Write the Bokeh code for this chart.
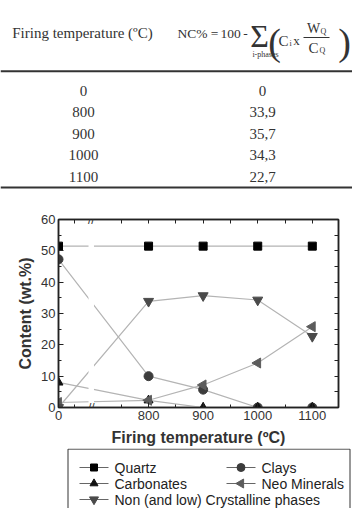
import numpy as np
from bokeh.plotting import figure
from bokeh.models import Range1d, LinearAxis, FixedTicker, SingleIntervalTicker, Label
from bokeh.core.properties import value
from bokeh.embed import file_html
from bokeh.resources import INLINE

# ---------------- data ----------------
temperatures = [0, 800, 900, 1000, 1100]
quartz = [51.5, 51.5, 51.5, 51.5, 51.5]
clays = [47.3, 10.0, 5.7, 0.0, 0.0]
carbonates = [8.0, 2.3, 0.0, 0.0, 0.0]
neo_minerals = [1.6, 2.3, 7.2, 14.2, 25.8]
non_crystalline = [0.0, 33.9, 35.7, 34.3, 22.7]

series_names = ["Quartz", "Clays", "Carbonates", "Neo Minerals",
                "Non (and low) Crystalline phases"]
series_values = [quartz, clays, carbonates, neo_minerals, non_crystalline]
series_markers = ["square", "circle", "triangle", "triangle", "inverted_triangle"]
series_angles = [0, 0, 0, np.pi / 2, 0]
series_colors = ["#000000", "#3c3c3c", "#111111", "#5c5c5c", "#4a4a4a"]
series_sizes = [8, 9, 9, 10, 10]

y_label = "Content (wt.%)"
x_label = "Firing temperature (ºC)"
table_head_left = "Firing temperature (ºC)"

# broken x axis: 0 °C is drawn at ZERO_POS, break mark at BREAK_POS
ZERO_POS = 635
BREAK_POS = 695
X_END = 1148
x_pos = [ZERO_POS if t == 0 else t for t in temperatures]

W = 352
SERIF = "Liberation Serif"
SANS = "Liberation Sans"
TXT = "#333333"

# ---------------- table ----------------
TH = 195
tab = figure(width=W, height=TH, x_range=Range1d(0, W), y_range=Range1d(TH, 0),
             x_axis_type=None, y_axis_type=None, toolbar_location=None,
             output_backend="svg", min_border=0, outline_line_color=None)

def ttext(fig, x, y, s, size="14px", align="center", font=SERIF, style="normal"):
    fig.text(x=[x], y=[y], text=[s], text_font=value(font), text_font_size=size,
             text_align=align, text_baseline="middle", text_color=TXT,
             text_font_style=style)

ttext(tab, 82, 32, table_head_left, size="15px")
ttext(tab, 177, 33, "NC%", size="13.5px", align="left")
ttext(tab, 214, 33, "=", size="13.5px")
ttext(tab, 230, 33, "100", size="13.5px")
ttext(tab, 245, 33, "-", size="13.5px")
ttext(tab, 259, 35, "\u03a3", size="32px")
ttext(tab, 265, 54, "i-phases", size="8px")
ttext(tab, 274, 41, "(", size="38px")
ttext(tab, 283, 40, "C", size="15px")
ttext(tab, 290, 43, "i", size="8px")
ttext(tab, 296, 40, "x", size="13px")
ttext(tab, 313, 28, "W", size="14px")
ttext(tab, 323, 31, "Q", size="8px")
tab.segment(x0=[303], y0=[37], x1=[329], y1=[37], line_color=TXT, line_width=1)
ttext(tab, 313, 47, "C", size="15px")
ttext(tab, 322, 50, "Q", size="8px")
ttext(tab, 344, 41, ")", size="38px")
tab.segment(x0=[0, 0], y0=[70.7, 187], x1=[W, W], y1=[70.7, 187],
            line_color=TXT, line_width=2)

nc_labels = ["0" if v == 0 else f"{v:.1f}".replace(".", ",") for v in non_crystalline]
row_y = [90 + i * 21.5 for i in range(len(temperatures))]
tab.text(x=[83] * len(temperatures), y=row_y, text=[str(t) for t in temperatures],
         text_font=value(SERIF), text_font_size="15px", text_align="center",
         text_baseline="middle", text_color=TXT)
tab.text(x=[262] * len(temperatures), y=row_y, text=nc_labels,
         text_font=value(SERIF), text_font_size="15px", text_align="center",
         text_baseline="middle", text_color=TXT)

# ---------------- chart ----------------
p = figure(width=W, height=253, x_range=Range1d(ZERO_POS, X_END), y_range=Range1d(0, 60),
           toolbar_location=None, output_backend="svg",
           min_border_left=58, min_border_right=14, min_border_top=24, min_border_bottom=0,
           outline_line_color="#222222", outline_line_width=1.5)
p.grid.visible = False

for vals in series_values:
    p.line(x_pos, vals, line_color="#b4b4b4", line_width=1.2)

# gap in the lines at the axis break
p.quad(left=[BREAK_POS - 5], right=[BREAK_POS + 5], bottom=[0.7], top=[59.3],
       fill_color="white", line_color=None)

for vals, mk, ang, col, sz in zip(series_values, series_markers, series_angles,
                                  series_colors, series_sizes):
    p.scatter(x_pos, vals, marker=mk, angle=ang, size=sz, fill_color=col, line_color=col)

x_minor = [664, 750, 850, 950, 1050]
x_ticker = FixedTicker(ticks=x_pos, minor_ticks=x_minor)
y_ticker = SingleIntervalTicker(interval=10, num_minor_ticks=2)
p.xaxis.ticker = x_ticker
p.xaxis.major_label_overrides = {pos: str(t) for pos, t in zip(x_pos, temperatures)}
p.yaxis.ticker = y_ticker

def style_axis(ax):
    ax.axis_line_color = "#222222"
    ax.axis_line_width = 1.5
    ax.major_tick_in = 5
    ax.major_tick_out = 0
    ax.minor_tick_in = 3
    ax.minor_tick_out = 0
    ax.major_tick_line_color = "#222222"
    ax.minor_tick_line_color = "#222222"
    ax.major_label_text_font = SANS
    ax.major_label_text_color = TXT
    ax.major_label_text_font_size = "13px"
    ax.major_label_standoff = 3
    ax.axis_label_text_font = SANS
    ax.axis_label_text_font_size = "16px"
    ax.axis_label_text_font_style = "bold"
    ax.axis_label_text_color = TXT
    ax.axis_label_standoff = 4

style_axis(p.xaxis[0])
style_axis(p.yaxis[0])
p.xaxis.axis_label_standoff = 6
p.xaxis.axis_label = x_label
p.yaxis.axis_label = y_label

# mirrored tick marks (no labels) on top and right
y_minor_all = list(range(5, 60, 5))
top_ax = LinearAxis(ticker=FixedTicker(ticks=[], minor_ticks=x_pos + x_minor))
right_ax = LinearAxis(ticker=FixedTicker(ticks=[], minor_ticks=y_minor_all))
for ax in (top_ax, right_ax):
    ax.axis_line_color = "#222222"
    ax.axis_line_width = 1.5
    ax.minor_tick_in = 4
    ax.minor_tick_out = 0
    ax.major_tick_in = 0
    ax.major_tick_out = 0
    ax.minor_tick_line_color = "#222222"
    ax.major_label_standoff = 0
p.add_layout(top_ax, "above")
p.add_layout(right_ax, "right")

for yy in (60, 0):
    p.add_layout(Label(x=BREAK_POS, y=yy, text="//", text_align="center",
                       text_baseline="middle", text_font_size="12px",
                       text_color=TXT, text_font=SANS))

# ---------------- legend ----------------
LH = 60
leg = figure(width=W, height=LH, x_range=Range1d(0, W), y_range=Range1d(LH, 0),
             x_axis_type=None, y_axis_type=None, toolbar_location=None,
             output_backend="svg", min_border=0, outline_line_color=None)
leg.quad(left=[67.5], right=[349.5], top=[0.6], bottom=[90], fill_color=None,
         line_color="#333333", line_width=1)
col_x0 = [79, 226]
for i, (name, mk, ang, col, sz) in enumerate(zip(series_names, series_markers, series_angles,
                                                  series_colors, series_sizes)):
    x0 = col_x0[i % 2]
    yy = 19 + (i // 2) * 16
    leg.segment(x0=[x0], y0=[yy], x1=[x0 + 29], y1=[yy], line_color="#666666", line_width=1)
    leg.scatter([x0 + 14.5], [yy], marker=mk, angle=ang, size=sz - 1,
                fill_color=col, line_color=col)
    leg.text(x=[x0 + 35], y=[yy], text=[name], text_font=value(SANS),
             text_font_size="14px", text_align="left", text_baseline="middle",
             text_color="#222222")

open("out.html", "w").write(file_html([tab, p, leg], INLINE))
